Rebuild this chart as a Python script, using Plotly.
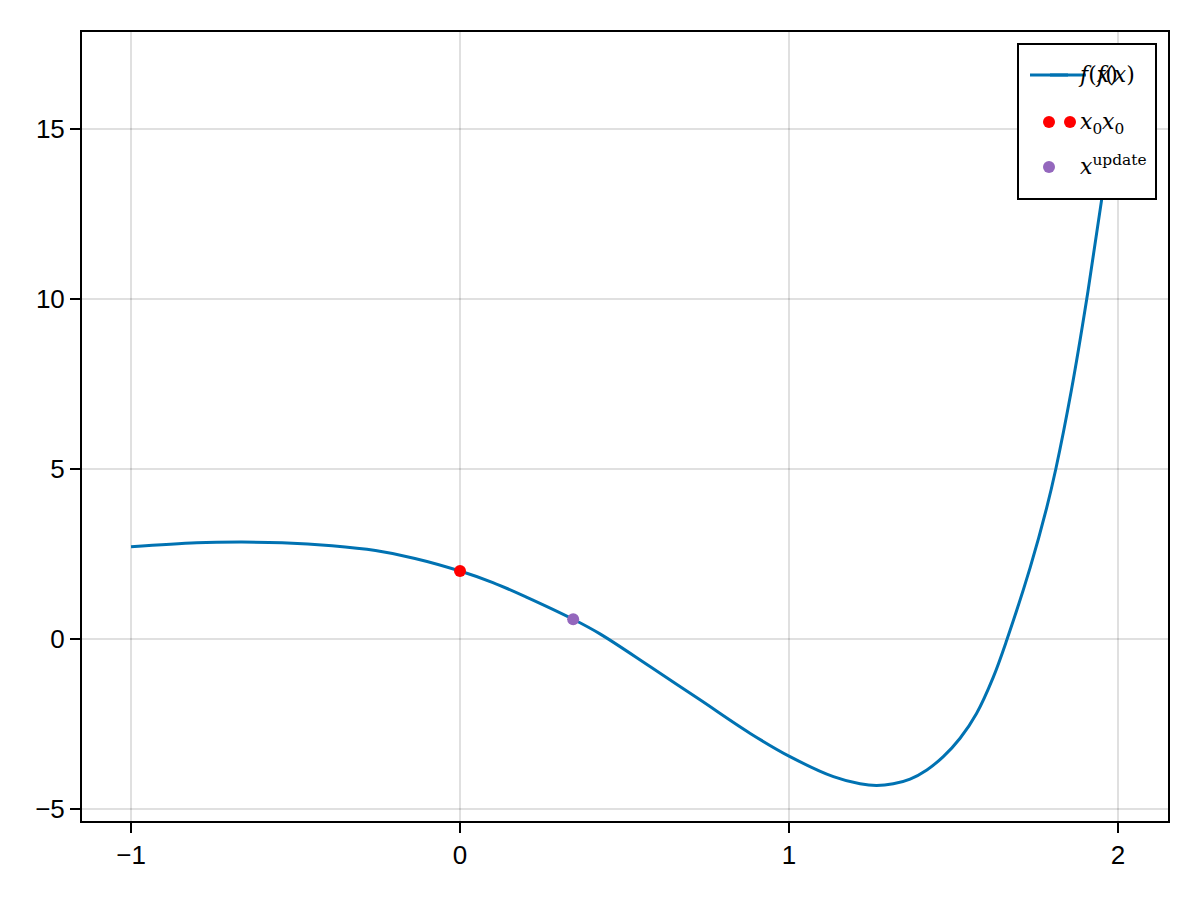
import plotly.graph_objects as go

# curve values
curve_x = [-1.0, -0.8, -0.663, -0.541, -0.389, -0.257, -0.137, 0.0, 0.1, 0.2, 0.344, 0.4255,
           0.5775, 0.7295, 0.881, 1.003, 1.135, 1.216, 1.266, 1.317, 1.368, 1.419, 1.469,
           1.52, 1.57, 1.621, 1.662, 1.733, 1.783, 1.811, 1.858, 1.905, 1.95, 2.0]
curve_y = [2.71, 2.83, 2.85, 2.83, 2.74, 2.6, 2.37, 2.0, 1.66, 1.24, 0.58, 0.15,
           -0.81, -1.79, -2.77, -3.46, -4.05, -4.26, -4.31, -4.26, -4.12, -3.85, -3.46,
           -2.92, -2.19, -1.12, -0.03, 2.1, 3.85, 5.0, 7.3, 10.0, 12.9, 16.3]

x0_x = [0.0]
x0_y = [2.0]
upd_x = [0.344]
upd_y = [0.58]

x_ticks = [-1, 0, 1, 2]
y_ticks = [-5, 0, 5, 10, 15]
x_ticktext = ['−1', '0', '1', '2']
y_ticktext = ['−5', '0', '5', '10', '15']

line_color = '#0072B2'
red = '#FF0000'
purple = '#9467BD'
grid_color = 'rgba(0,0,0,0.12)'
tick_font = dict(family='Liberation Sans, Arial', size=26, color='black')
tex_font = dict(family='DejaVu Serif, Liberation Serif', size=22, color='black')

fig = go.Figure()
fig.add_trace(go.Scatter(x=curve_x, y=curve_y, mode='lines',
                         line=dict(color=line_color, width=3, shape='spline', smoothing=1.0)))
fig.add_trace(go.Scatter(x=x0_x, y=x0_y, mode='markers', marker=dict(color=red, size=12)))
fig.add_trace(go.Scatter(x=upd_x, y=upd_y, mode='markers', marker=dict(color=purple, size=12)))

# plot area in page pixels; the page body adds an 8px offset
OFF = 8
L, R, T, B = 82, 1168, 32, 821


def px(xp):
    return (xp - L) / (R - L)


def py(yp):
    return (B - yp) / (B - T)


# hand-drawn legend box (the original shows doubled entries)
shapes = [
    dict(type='rect', xref='paper', yref='paper', x0=px(1018), x1=px(1156), y0=py(199), y1=py(44),
         line=dict(color='black', width=2), fillcolor='white', layer='above'),
    dict(type='line', xref='paper', yref='paper', x0=px(1030), x1=px(1068), y0=py(75), y1=py(75),
         line=dict(color=line_color, width=3), layer='above'),
    dict(type='line', xref='paper', yref='paper', x0=px(1050), x1=px(1086), y0=py(75), y1=py(75),
         line=dict(color=line_color, width=3), layer='above'),
]
for cx, cy, col in [(1049, 122, red), (1070, 122, red), (1049, 167, purple)]:
    shapes.append(dict(type='circle', xref='paper', yref='paper', xsizemode='pixel', ysizemode='pixel',
                       xanchor=px(cx), yanchor=py(cy), x0=-6, x1=6, y0=-6, y1=6,
                       fillcolor=col, line=dict(width=0), layer='above'))

annotations = []
for tx, ty, txt in [(1076, 75, '<i>f</i>(<i>x</i>)'), (1093, 75, '<i>f</i>(<i>x</i>)'),
                    (1078, 124, '<i>x</i><sub>0</sub>'), (1100, 124, '<i>x</i><sub>0</sub>'),
                    (1078, 165, '<i>x</i><sup>update</sup>')]:
    annotations.append(dict(text=txt, xref='paper', yref='paper', x=px(tx), y=py(ty),
                            xanchor='left', yanchor='middle', showarrow=False, font=tex_font))

fig.update_layout(
    width=1200, height=900,
    margin=dict(l=L - OFF, r=1200 - R + OFF, t=T - OFF, b=900 - B + OFF),
    paper_bgcolor='white', plot_bgcolor='white',
    showlegend=False,
    shapes=shapes, annotations=annotations,
    xaxis=dict(range=[-1.149, 2.152], tickvals=x_ticks, ticktext=x_ticktext, tickfont=tick_font,
               showgrid=True, gridcolor=grid_color, gridwidth=2, zeroline=False,
               showline=True, linecolor='black', linewidth=2, mirror=True,
               ticks='outside', ticklen=10, tickwidth=2, tickcolor='black'),
    yaxis=dict(range=[-5.353, 17.853], tickvals=y_ticks, ticktext=y_ticktext, tickfont=tick_font,
               showgrid=True, gridcolor=grid_color, gridwidth=2, zeroline=False,
               showline=True, linecolor='black', linewidth=2, mirror=True,
               ticks='outside', ticklen=10, tickwidth=2, tickcolor='black'),
)

fig.write_html("out.html")
